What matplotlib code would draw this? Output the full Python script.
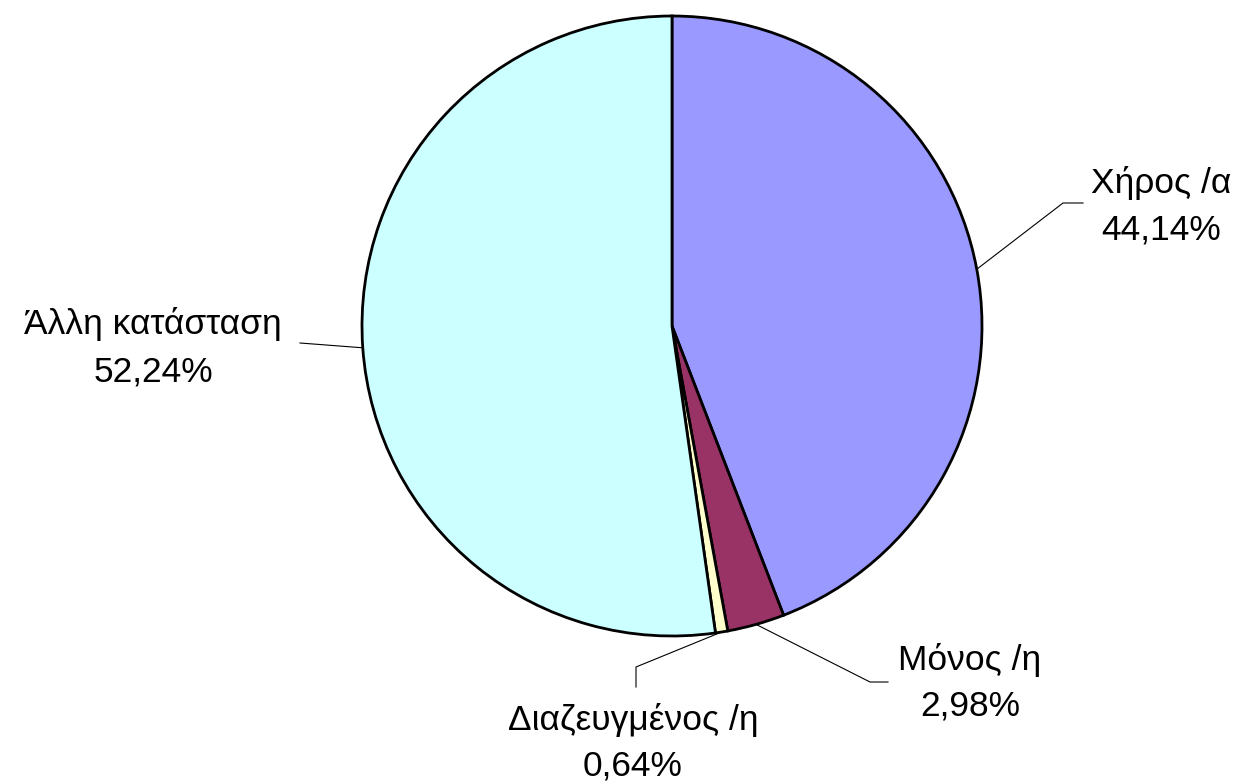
import numpy as np
import matplotlib
matplotlib.use("Agg")
import matplotlib.pyplot as plt

plt.rcParams['font.family'] = ['Liberation Sans', 'DejaVu Sans']

labels = ['Χήρος /α', 'Μόνος /η', 'Διαζευγμένος /η', 'Άλλη κατάσταση']
values = [44.14, 2.98, 0.64, 52.24]
pct_text = ['44,14%', '2,98%', '0,64%', '52,24%']
colors = ['#9999FF', '#993366', '#FFFFCC', '#CCFFFF']

W, H = 1247, 784
cx, cy, R = 672, 326, 310  # pie centre / radius in pixels

fig = plt.figure(figsize=(W / 100, H / 100), dpi=100)
ax = fig.add_axes([0, 0, 1, 1])

wedges, _ = ax.pie(values, colors=colors, startangle=90, counterclock=False,
                   radius=1.0, center=(0, 0), frame=True,
                   wedgeprops=dict(edgecolor='black', linewidth=2))
ax.set_xlim(-cx / R, (W - cx) / R)
ax.set_ylim(-(H - cy) / R, cy / R)
ax.set_aspect('auto')
ax.axis('off')


def px(x, y):
    return (x - cx) / R, (cy - y) / R

# label layout in pixels: elbow, line end, text centre x, two baselines
layout = [
    ((1063, 203), (1083, 203), 1161, (193, 240)),
    ((870, 682), (888, 682), 970, (670, 715)),
    ((636, 667), (636, 687), 633, (730, 776)),
    ((300, 343), (300, 343), 153, (334, 381)),
]

for w, lab, pt, (elbow, end, tx, (b1, b2)) in zip(wedges, labels, pct_text, layout):
    ang = np.deg2rad((w.theta1 + w.theta2) / 2)
    x0, y0 = np.cos(ang), np.sin(ang)
    ex, ey = px(*elbow)
    fx, fy = px(*end)
    ax.plot([x0, ex, fx], [y0, ey, fy], color='black', lw=0.8)
    for txt, b in ((lab, b1), (pt, b2)):
        x, y = px(tx, b)
        ax.text(x, y, txt, ha='center', va='baseline', fontsize=25.5)

fig.savefig('out.png', dpi=100)
